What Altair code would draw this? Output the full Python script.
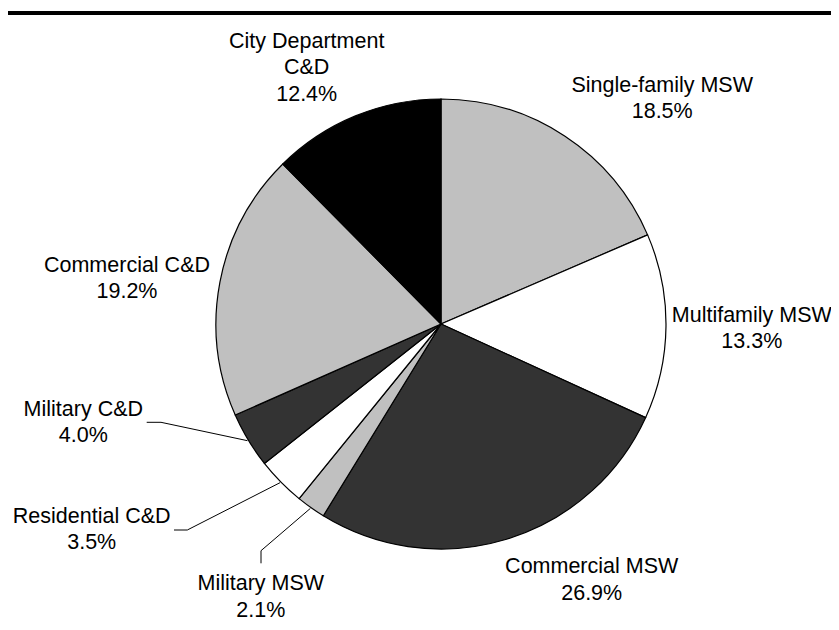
import altair as alt
import numpy as np
import pandas as pd

# ---------------- data ----------------
categories = ["Single-family MSW", "Multifamily MSW", "Commercial MSW", "Military MSW",
              "Residential C&D", "Military C&D", "Commercial C&D", "City Department C&D"]
shares = [18.5, 13.3, 26.9, 2.1, 3.5, 4.0, 19.2, 12.4]
label_names = ["Single-family MSW", "Multifamily MSW", "Commercial MSW", "Military MSW",
               "Residential C&D", "Military C&D", "Commercial C&D", "City Department\nC&D"]

# ---------------- styles / layout ----------------
fills = ["#c0c0c0", "#ffffff", "#333333", "#c0c0c0", "#ffffff", "#333333", "#c0c0c0", "#000000"]
W, H = 823, 614
CX, CY, R = 433, 316, 225
FONT = "Liberation Sans"
FS = 21.5
LH = 26.6

# label anchor (center x, first-line baseline y) in pixels
label_pos = {
    "Single-family MSW": (654.2, 83.7),
    "Multifamily MSW": (743.8, 313.7),
    "Commercial MSW": (583.7, 565.3),
    "Military MSW": (252.8, 582.0),
    "Residential C&D": (83.7, 514.7),
    "Military C&D": (75.3, 407.7),
    "Commercial C&D": (119.0, 263.7),
    "City Department C&D": (298.7, 39.7),
}
# leader line start and elbow points (pixels); end is on the slice edge
leader_pts = {
    "Military C&D": [(138.7, 414.3), (153.0, 414.3)],
    "Residential C&D": [(166.0, 522.0), (179.3, 522.0)],
    "Military MSW": [(253.0, 555.3), (253.0, 542.7)],
}

# ---------------- tables ----------------
pie_df = pd.DataFrame({
    "name": categories,
    "share": shares,
    "idx": list(range(len(categories))),
})

lab_df = pd.DataFrame({
    "name": categories,
    "text": [f"{n}\n{v:.1f}%" for n, v in zip(label_names, shares)],
    "lx": [label_pos[c][0] for c in categories],
    "ly": [label_pos[c][1] for c in categories],
})

vals = np.array(shares, dtype=float)
cum = np.cumsum(vals)
mid_ang = (cum - vals / 2) / vals.sum() * 2 * np.pi
rows = []
for c, pts in leader_pts.items():
    i = categories.index(c)
    a = mid_ang[i]
    end = (CX + (R + 1) * np.sin(a), CY - (R + 1) * np.cos(a))
    for k, (px, py) in enumerate(pts + [end]):
        rows.append({"name": c, "k": k, "x": float(px), "y": float(py)})
lead_df = pd.DataFrame(rows)

# ---------------- chart ----------------
pie = alt.Chart(pie_df).mark_arc(radius=R, stroke="black", strokeWidth=1.2).encode(
    theta=alt.Theta("share:Q", stack=True),
    order=alt.Order("idx:Q"),
    color=alt.Color("name:N", scale=alt.Scale(domain=categories, range=fills), legend=None),
    x=alt.value(CX),
    y=alt.value(CY),
)

labels = alt.Chart(lab_df).mark_text(
    font=FONT, fontSize=FS, align="center", baseline="alphabetic",
    lineBreak="\n", lineHeight=LH, color="black",
).encode(
    x=alt.X("lx:Q", scale=None, axis=None),
    y=alt.Y("ly:Q", scale=None, axis=None),
    text="text:N",
)

leaders = alt.Chart(lead_df).mark_line(color="black", strokeWidth=1).encode(
    x=alt.X("x:Q", scale=None, axis=None),
    y=alt.Y("y:Q", scale=None, axis=None),
    detail="name:N",
    order="k:Q",
)

topline = alt.Chart(pie_df).mark_rule(color="black", strokeWidth=4).encode(
    x=alt.value(0), x2=alt.value(W), y=alt.value(5)
)

chart = alt.layer(topline, pie, leaders, labels).properties(
    width=W, height=H, padding=0, autosize="none",
).configure_view(stroke=None)

chart.save("out.html", embed_options={"renderer": "svg", "actions": False})
